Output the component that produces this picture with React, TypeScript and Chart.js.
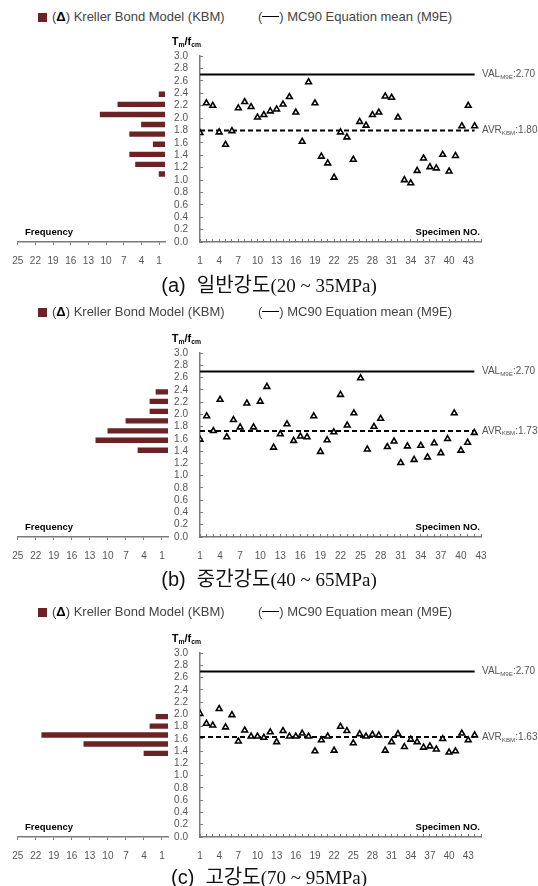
import React, { useEffect, useRef } from 'react';
import { Chart, registerables } from 'chart.js';
Chart.register(...registerables);

const FONT = '"Liberation Sans", Arial, sans-serif';
Chart.defaults.font.family = FONT;

// ---------- DATA ----------
const VAL_M9E = 2.7;

const specimenA = [1.76, 2.24, 2.2, 1.77, 1.57, 1.79, 2.16, 2.26, 2.18, 2.01, 2.05, 2.11, 2.14, 2.22, 2.34, 2.09, 1.62, 2.58, 2.24, 1.38, 1.27, 1.04, 1.77, 1.69, 1.33, 1.94, 1.88, 2.05, 2.09, 2.35, 2.33, 2.01, 1.0, 0.95, 1.15, 1.35, 1.21, 1.19, 1.41, 1.14, 1.39, 1.87, 2.2, 1.87];
const avrA = 1.8;
const binsA = [2.53, 2.34, 2.15, 1.96, 1.78, 1.59, 1.4, 1.21, 1.03];
const freqA = [1, 8, 11, 4, 6, 2, 6, 5, 1];

const specimenB = [1.59, 1.97, 1.73, 2.24, 1.63, 1.91, 1.79, 2.18, 1.79, 2.21, 2.45, 1.46, 1.68, 1.84, 1.57, 1.64, 1.63, 1.97, 1.39, 1.58, 1.71, 2.32, 1.82, 2.02, 2.59, 1.43, 1.8, 1.93, 1.47, 1.56, 1.21, 1.48, 1.26, 1.49, 1.3, 1.53, 1.37, 1.6, 2.02, 1.41, 1.54, 1.7];
const avrB = 1.73;
const binsB = [2.51, 2.33, 2.14, 1.96, 1.77, 1.59, 1.4];
const freqB = [2, 3, 3, 7, 10, 12, 5];

const specimenC = [2.01, 1.85, 1.82, 2.09, 1.79, 1.99, 1.56, 1.74, 1.64, 1.64, 1.62, 1.71, 1.55, 1.73, 1.64, 1.64, 1.69, 1.64, 1.4, 1.58, 1.64, 1.41, 1.8, 1.73, 1.53, 1.68, 1.64, 1.67, 1.66, 1.41, 1.55, 1.68, 1.47, 1.59, 1.55, 1.46, 1.48, 1.43, 1.6, 1.38, 1.4, 1.69, 1.58, 1.66];
const avrC = 1.63;
const binsC = [2.04, 1.86, 1.69, 1.52, 1.34];
const freqC = [2, 3, 21, 14, 4];

const freqTicks = [1, 4, 7, 10, 13, 16, 19, 22, 25];
const ratioTicks = [0, 0.2, 0.4, 0.6, 0.8, 1.0, 1.2, 1.4, 1.6, 1.8, 2.0, 2.2, 2.4, 2.6, 2.8, 3.0];
const specimenLabelStep = 3;
const xMaxA = 45;
const xMaxB = 43;
const xMaxC = 45;

const captionTags = ['(a)', '(b)', '(c)'];
const captionKo = ['일반강도', '중간강도', '고강도'];
const captionRange = ['(20 ~ 35MPa)', '(40 ~ 65MPa)', '(70 ~ 95MPa)'];

// ---------- STYLE ----------
const BAR = '#6b2325';
const AXIS = '#7a7a7a';
const TXT = '#555';
const PADTOP = 22;
const XH = 30;
const SC_LEFT = 168;
const SC_W = 370;
const SC_AREA_LEFT = 200;
const SC_AREA_RIGHT = 481;

type Part = [string, boolean];
function drawParts(ctx: CanvasRenderingContext2D, parts: Part[], x: number, y: number, size: number, weight: string, color: string, align: 'left' | 'right') {
  const subSize = size * 0.62;
  const widths = parts.map(([t, sub]) => {
    ctx.font = `${weight} ${sub ? subSize : size}px ${FONT}`;
    return ctx.measureText(t).width;
  });
  const total = widths.reduce((a, b) => a + b, 0);
  let cx = align === 'left' ? x : x - total;
  ctx.save();
  ctx.fillStyle = color;
  ctx.textBaseline = 'middle';
  ctx.textAlign = 'left';
  parts.forEach(([t, sub], i) => {
    ctx.font = `${weight} ${sub ? subSize : size}px ${FONT}`;
    ctx.fillText(t, cx, sub ? y + size * 0.28 : y);
    cx += widths[i];
  });
  ctx.restore();
}

function ScatterPanel({ values, avr, xMax, chartTop, chartBottom }: { values: number[]; avr: number; xMax: number; chartTop: number; chartBottom: number }) {
  const ref = useRef<HTMLCanvasElement>(null);
  const H = chartBottom - chartTop + PADTOP + XH;
  useEffect(() => {
    const n = values.length;
    const labels = {
      id: 'labels',
      afterDraw(chart: any) {
        const { ctx, chartArea, scales } = chart;
        const y = scales.y;
        drawParts(ctx, [['VAL', false], ['M9E', true], [':' + VAL_M9E.toFixed(2), false]], chartArea.right + 1, y.getPixelForValue(VAL_M9E), 10, 'normal', TXT, 'left');
        drawParts(ctx, [['AVR', false], ['KBM', true], [':' + avr.toFixed(2), false]], chartArea.right + 1, y.getPixelForValue(avr), 10, 'normal', TXT, 'left');
        drawParts(ctx, [['Specimen NO.', false]], chartArea.right - 1, chartArea.bottom - 10, 9.5, 'bold', '#000', 'right');
        drawParts(ctx, [['T', false], ['m', true], ['/f', false], ['cm', true]], chartArea.left + 1, chartArea.top - 14, 11, 'bold', '#000', 'right');
      },
    };
    const chart = new Chart(ref.current!, {
      type: 'scatter',
      data: {
        datasets: [
          {
            data: values.map((v, i) => ({ x: i + 1, y: v })),
            pointStyle: 'triangle',
            pointRadius: 3.3,
            pointBorderWidth: 1.6,
            pointBorderColor: '#000',
            pointBackgroundColor: '#fff',
            showLine: false,
          } as any,
          {
            type: 'line',
            data: [{ x: 1, y: VAL_M9E }, { x: n, y: VAL_M9E }],
            borderColor: '#000',
            borderWidth: 2,
            pointRadius: 0,
          } as any,
          {
            type: 'line',
            data: [{ x: 1, y: avr }, { x: n, y: avr }],
            borderColor: '#000',
            borderWidth: 2,
            borderDash: [5, 3],
            pointRadius: 0,
          } as any,
        ],
      },
      options: {
        responsive: false,
        animation: false,
        events: [],
        layout: { padding: { left: 0, right: SC_W - (SC_AREA_RIGHT - SC_LEFT), top: PADTOP, bottom: 0 } },
        plugins: { legend: { display: false }, tooltip: { enabled: false } },
        scales: {
          x: {
            type: 'linear',
            min: 1,
            max: xMax,
            afterFit: (s: any) => { s.height = XH; },
            grid: { display: true, drawOnChartArea: false, drawTicks: true, tickLength: -3, tickColor: AXIS, tickWidth: 1 },
            border: { display: true, color: AXIS, width: 1.5 },
            ticks: {
              stepSize: 1,
              autoSkip: false,
              maxRotation: 0,
              padding: 16,
              color: TXT,
              font: { size: 10 },
              callback: (v: any) => ((Number(v) - 1) % specimenLabelStep === 0 ? String(v) : ''),
            },
          },
          y: {
            type: 'linear',
            min: 0,
            max: 3,
            afterFit: (s: any) => { s.width = SC_AREA_LEFT - SC_LEFT; },
            afterBuildTicks: (s: any) => { s.ticks = ratioTicks.map((v) => ({ value: v })); },
            grid: { display: true, drawOnChartArea: false, drawTicks: true, tickLength: -3, tickColor: AXIS, tickWidth: 1 },
            border: { display: true, color: AXIS, width: 1.5 },
            ticks: {
              autoSkip: false,
              padding: 15,
              color: TXT,
              font: { size: 10 },
              callback: (v: any) => Number(v).toFixed(1),
            },
          },
        },
      },
      plugins: [labels],
    });
    return () => chart.destroy();
  }, []);
  return (
    <canvas
      ref={ref}
      width={SC_W}
      height={H}
      style={{ position: 'absolute', left: SC_LEFT, top: chartTop - PADTOP, width: SC_W, height: H }}
    />
  );
}

function HistPanel({ bins, freq, chartTop, chartBottom, histRight }: { bins: number[]; freq: number[]; chartTop: number; chartBottom: number; histRight: number }) {
  const ref = useRef<HTMLCanvasElement>(null);
  const H = chartBottom - chartTop + PADTOP + XH;
  const W = histRight + 6;
  useEffect(() => {
    const labels = {
      id: 'freqLabel',
      afterDraw(chart: any) {
        const { ctx, chartArea } = chart;
        drawParts(ctx, [['Frequency', false]], 25, chartArea.bottom - 10, 9.5, 'bold', '#000', 'left');
      },
    };
    const chart = new Chart(ref.current!, {
      type: 'bar',
      data: {
        datasets: [
          {
            data: freq.map((c, i) => ({ x: c, y: bins[i] })),
            backgroundColor: BAR,
            borderWidth: 0,
            barThickness: 4.7,
          } as any,
        ],
      },
      options: {
        indexAxis: 'y',
        responsive: false,
        animation: false,
        events: [],
        layout: { padding: { left: 17.7, right: W - histRight, top: PADTOP, bottom: 0 } },
        plugins: { legend: { display: false }, tooltip: { enabled: false } },
        scales: {
          x: {
            type: 'linear',
            reverse: true,
            min: 0,
            max: 25,
            afterFit: (s: any) => { s.height = XH; },
            afterBuildTicks: (s: any) => { s.ticks = freqTicks.map((v) => ({ value: v })); },
            grid: { display: true, drawOnChartArea: false, drawTicks: true, tickLength: 3, tickColor: AXIS, tickWidth: 1 },
            border: { display: true, color: AXIS, width: 1.5 },
            ticks: { autoSkip: false, maxRotation: 0, padding: 10, color: TXT, font: { size: 10 } },
          },
          y: {
            type: 'linear',
            min: 0,
            max: 3,
            display: false,
          },
        },
      },
      plugins: [labels],
    });
    return () => chart.destroy();
  }, []);
  return (
    <canvas
      ref={ref}
      width={W}
      height={H}
      style={{ position: 'absolute', left: 0, top: chartTop - PADTOP, width: W, height: H }}
    />
  );
}

function Legend({ y }: { y: number }) {
  const base: React.CSSProperties = { position: 'absolute', top: y - 8, font: `13px ${FONT}`, color: '#444', whiteSpace: 'nowrap', lineHeight: '16px' };
  return (
    <>
      <div style={{ position: 'absolute', left: 38, top: y - 4, width: 8.5, height: 8.5, background: BAR }} />
      <div style={{ ...base, left: 52 }}>
        (<b style={{ color: '#000' }}>Δ</b>) Kreller Bond Model (KBM)
      </div>
      <div style={{ ...base, left: 258 }}>
        (<span style={{ display: 'inline-block', width: 17, borderTop: '1.5px solid #000', verticalAlign: 'middle', marginBottom: 2 }} />) MC90 Equation mean (M9E)
      </div>
    </>
  );
}

function Caption({ y, i }: { y: number; i: number }) {
  return (
    <div style={{ position: 'absolute', left: 0, width: 538, top: y - 12, textAlign: 'center', fontSize: 20, lineHeight: '24px', color: '#111', whiteSpace: 'nowrap' }}>
      <span style={{ fontFamily: FONT }}>{captionTags[i]}&nbsp; </span>
      <span style={{ fontFamily: '"Noto Sans CJK KR", sans-serif' }}>{captionKo[i]}</span>
      <span style={{ fontFamily: '"Liberation Serif", serif', fontSize: 19 }}>{captionRange[i]}</span>
    </div>
  );
}

const panels = [
  { values: specimenA, avr: avrA, bins: binsA, freq: freqA, xMax: xMaxA, chartTop: 56, chartBottom: 242, histRight: 165, legendY: 17, captionY: 284 },
  { values: specimenB, avr: avrB, bins: binsB, freq: freqB, xMax: xMaxB, chartTop: 353, chartBottom: 537, histRight: 168, legendY: 312, captionY: 578 },
  { values: specimenC, avr: avrC, bins: binsC, freq: freqC, xMax: xMaxC, chartTop: 653, chartBottom: 837, histRight: 168, legendY: 612, captionY: 876 },
];

export default function App() {
  return (
    <div style={{ position: 'absolute', left: 0, top: 0, width: 538, height: 886, background: '#fff', overflow: 'hidden' }}>
      {panels.map((p, i) => (
        <React.Fragment key={i}>
          <Legend y={p.legendY} />
          <HistPanel bins={p.bins} freq={p.freq} chartTop={p.chartTop} chartBottom={p.chartBottom} histRight={p.histRight} />
          <ScatterPanel values={p.values} avr={p.avr} xMax={p.xMax} chartTop={p.chartTop} chartBottom={p.chartBottom} />
          <Caption y={p.captionY} i={i} />
        </React.Fragment>
      ))}
    </div>
  );
}
